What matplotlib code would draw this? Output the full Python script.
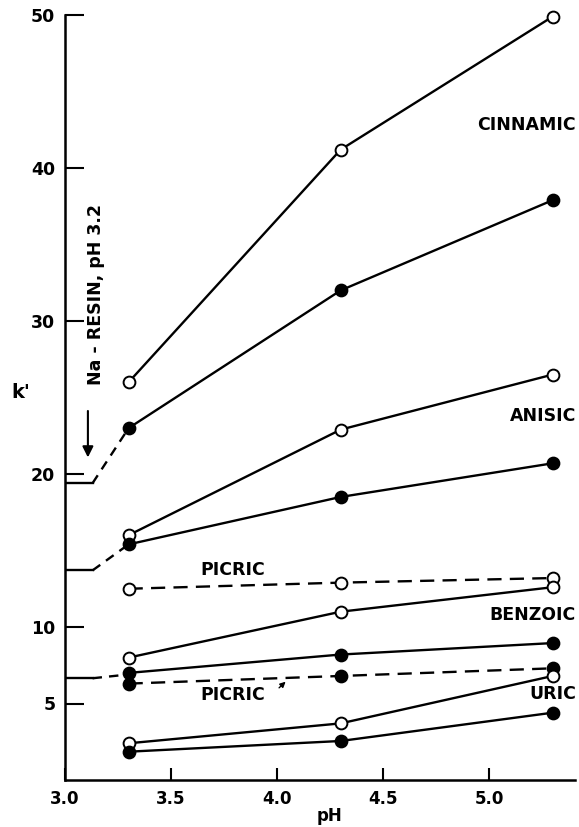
import matplotlib
matplotlib.use("Agg")
import matplotlib.pyplot as plt

plt.rcParams['font.family'] = ['DejaVu Sans']

ph = [3.3, 4.3, 5.3]

cinnamic_open = [26.0, 41.2, 49.9]
cinnamic_filled = [23.0, 32.0, 37.9]
anisic_open = [16.0, 22.9, 26.5]
anisic_filled = [15.4, 18.5, 20.7]
picric_open = [12.5, 12.9, 13.2]
benzoic_open = [8.0, 11.0, 12.6]
benzoic_filled = [7.0, 8.2, 8.95]
picric_filled = [6.3, 6.8, 7.3]
uric_open = [2.4, 3.7, 6.8]
uric_filled = [1.85, 2.55, 4.4]

# Na-resin reference levels (pH 3.2)
resin_x = [3.0, 3.13]
resin_cinnamic = 19.4
resin_anisic = 13.7
resin_picric = 6.65

xticks = [3.0, 3.5, 4.0, 4.5, 5.0]
xticklabels = ["3.0", "3.5", "4.0", "4.5", "5.0"]
yticks = [5, 10, 20, 30, 40, 50]
yticklabels = ["5", "10", "20", "30", "40", "50"]

fig = plt.figure(figsize=(5.79, 8.27), dpi=100)
ax = fig.add_axes([65/579, 1-780/827, 510/579, 765/827])
ax.set_xlim(3.0, 5.405)
ax.set_ylim(0, 50)

lw = 1.7
ms = 8.5

def series(y, filled, dashed=False):
    ax.plot(ph, y, color='black', lw=lw,
            linestyle=(0, (6, 3.5)) if dashed else '-',
            marker='o', markersize=ms,
            markerfacecolor='black' if filled else 'white',
            markeredgecolor='black', markeredgewidth=1.4,
            clip_on=False, zorder=3)

series(cinnamic_open, False)
series(cinnamic_filled, True)
series(anisic_open, False)
series(anisic_filled, True)
series(picric_open, False, dashed=True)
series(benzoic_open, False)
series(benzoic_filled, True)
series(picric_filled, True, dashed=True)
series(uric_open, False)
series(uric_filled, True)

# resin reference lines and dashed connections
for lvl, target in [(resin_cinnamic, cinnamic_filled[0]),
                    (resin_anisic, anisic_filled[0]),
                    (resin_picric, 6.9)]:
    ax.plot(resin_x, [lvl, lvl], color='black', lw=lw, zorder=2)
    ax.plot([resin_x[1], ph[0]], [lvl, target], color='black', lw=lw,
            linestyle=(0, (4, 3)), zorder=2)

# arrow and vertical text
ax.annotate("", xy=(3.108, 20.9), xytext=(3.108, 24.3),
            arrowprops=dict(arrowstyle='-|>', color='black', lw=1.5,
                            mutation_scale=16))
ax.text(3.148, 31.7, "Na - RESIN, pH 3.2", rotation=90, ha='center',
        va='center', fontsize=12.5, fontweight='bold')

lab = dict(fontsize=12.5, fontweight='bold', color='black')
ax.text(5.41, 42.8, "CINNAMIC", ha='right', va='center', **lab)
ax.text(5.41, 23.8, "ANISIC", ha='right', va='center', **lab)
ax.text(3.79, 13.7, "PICRIC", ha='center', va='center', **lab)
ax.text(5.41, 10.8, "BENZOIC", ha='right', va='center', **lab)
ax.text(3.79, 5.55, "PICRIC", ha='center', va='center', **lab)
ax.text(5.41, 5.6, "URIC", ha='right', va='center', **lab)
ax.annotate("", xy=(4.05, 6.55), xytext=(4.0, 5.9),
            arrowprops=dict(arrowstyle='-|>', color='black', lw=1.0,
                            mutation_scale=8))

for s in ['top', 'right']:
    ax.spines[s].set_visible(False)
for s in ['left', 'bottom']:
    ax.spines[s].set_linewidth(1.8)

ax.set_xticks(xticks)
ax.set_xticklabels(xticklabels)
ax.set_yticks(yticks)
ax.set_yticklabels(yticklabels)
ax.tick_params(axis='x', direction='in', length=9, width=1.5, pad=7,
               labelsize=12)
ax.tick_params(axis='y', direction='in', length=14, width=1.5, pad=7,
               labelsize=12.5)
for t in ax.get_xticklabels() + ax.get_yticklabels():
    t.set_fontweight('bold')

fig.text(21/579, 1-393/827, "k'", ha='center', va='center',
         fontsize=14, fontweight='bold')
fig.text(330/579, 1-816/827, "pH", ha='center', va='center',
         fontsize=12, fontweight='bold')

fig.savefig("out.png", dpi=100)
